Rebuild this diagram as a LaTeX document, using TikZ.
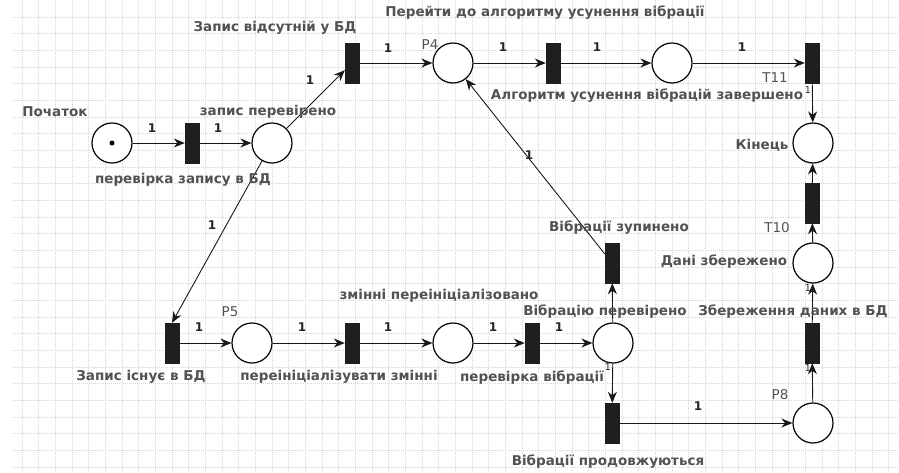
\documentclass[tikz,border=0pt]{standalone}
\usepackage{fontspec}
\setmainfont{DejaVu Sans}
\usetikzlibrary{arrows.meta}

\tikzset{
  place/.style={circle,draw=black,line width=1.2pt,minimum size=40pt,inner sep=0pt,fill=white},
  trans/.style={rectangle,fill=black!88,draw=black!88,minimum width=14pt,minimum height=40pt,inner sep=0pt},
  arc/.style={-{Stealth[length=11pt,width=9pt,inset=3.5pt]},line width=0.9pt,black!90},
  lbl/.style={font=\bfseries\fontsize{13.5}{15}\selectfont,text=black!68,inner sep=0pt},
  idlbl/.style={font=\fontsize{13.5}{15}\selectfont,text=black!68,inner sep=0pt},
  wt/.style={font=\bfseries\fontsize{12}{14}\selectfont,text=black!85,inner sep=0pt},
  wts/.style={font=\fontsize{9.5}{11}\selectfont,text=black!85,inner sep=0pt},
  gridline/.style={black!16,line width=0.5pt,dash pattern=on 1pt off 1pt}
}

\begin{document}
\begin{tikzpicture}[x=1pt,y=-1pt]
\useasboundingbox (0,0) rectangle (899,472);
\fill[white] (0,0) rectangle (899,472);

% background grid
\foreach \k in {0,...,27}
  \draw[gridline] (13,{17+16.667*\k}) -- (899,{17+16.667*\k});
\foreach \k in {0,...,52}
  \draw[gridline] ({22+16.667*\k},0) -- ({22+16.667*\k},472);

% places
\node[place] (start) at (112,143) {};
\fill[black] (start) circle (2.5pt);
\node[place] (checked) at (272,143) {};
\node[place] (p4) at (453,63) {};
\node[place] (algo) at (672,63) {};
\node[place] (fin) at (813,143) {};
\node[place] (saved) at (813,263) {};
\node[place] (p8) at (813,423) {};
\node[place] (vibchk) at (613,343) {};
\node[place] (pv) at (453,343) {};
\node[place] (p5) at (252,343) {};

% transitions
\node[trans] (tcheck) at (192,143) {};
\node[trans] (tabsent) at (352,63) {};
\node[trans] (tgo) at (553,63) {};
\node[trans] (t11) at (812,63) {};
\node[trans] (t10) at (812,203) {};
\node[trans] (tsave) at (812,343) {};
\node[trans] (tcont) at (612,423) {};
\node[trans] (tstop) at (612,263) {};
\node[trans] (tvib) at (532,343) {};
\node[trans] (treinit) at (352,343) {};
\node[trans] (texists) at (172,343) {};

% arcs
\draw[arc] (start) -- (tcheck);
\draw[arc] (tcheck) -- (checked);
\draw[arc] (checked) -- (tabsent);
\draw[arc] (checked) -- (texists.north);
\draw[arc] (tabsent) -- (p4);
\draw[arc] (p4) -- (tgo);
\draw[arc] (tgo) -- (algo);
\draw[arc] (algo) -- (t11);
\draw[arc] (t11) -- (fin);
\draw[arc] (t10) -- (fin);
\draw[arc] (saved) -- (t10);
\draw[arc] (tsave) -- (saved);
\draw[arc] (p8) -- (tsave);
\draw[arc] (tcont) -- (p8);
\draw[arc] (vibchk) -- (tcont);
\draw[arc] (vibchk) -- (tstop);
\draw[arc] (tstop) -- (p4);
\draw[arc] (texists) -- (p5);
\draw[arc] (p5) -- (treinit);
\draw[arc] (treinit) -- (pv);
\draw[arc] (pv) -- (tvib);
\draw[arc] (tvib) -- (vibchk);

% labels
\node[lbl] (lstart) at (55,112) {Початок};
\node[lbl] (lchecked) at (268,112) {запис перевірено};
\node[lbl] (ltcheck) at (183,180) {перевірка запису в БД};
\node[lbl] (ltabsent) at (275,28) {Запис відсутній у БД};
\node[idlbl] (lp4) at (430,45) {P4};
\node[lbl] (ltgo) at (545,13) {Перейти до алгоритму усунення вібрації};
\node[idlbl] (lt11) at (775,78) {T11};
\node[lbl] (lalgo) at (647,96) {Алгоритм усунення вібрацій завершено};
\node[lbl] (lfin) at (762,145) {Кінець};
\node[lbl] (ltstop) at (619,228) {Вібрації зупинено};
\node[idlbl] (lt10) at (777,228) {T10};
\node[lbl] (lsaved) at (724,262) {Дані збережено};
\node[lbl] (ltreinit) at (439,296) {змінні переініціалізовано};
\node[lbl] (lvibchk) at (605,312) {Вібрацію перевірено};
\node[lbl] (ltsave) at (793,312) {Збереження даних в БД};
\node[idlbl] (lp5) at (230,312) {P5};
\node[lbl] (ltexists) at (141,377) {Запис існує в БД};
\node[lbl] (lp5b) at (339,377) {переініціалізувати змінні};
\node[lbl] (ltvib) at (532,378) {перевірка вібрації};
\node[idlbl] (lp8) at (780,395) {P8};
\node[lbl] (ltcont) at (608,462) {Вібрації продовжуються};

% arc weights
\node[wt] (w1) at (152,128) {1};
\node[wt] (w2) at (218,128) {1};
\node[wt] (w3) at (310,80) {1};
\node[wt] (w4) at (212,225) {1};
\node[wt] (w5) at (388,48) {1};
\node[wt] (w6) at (503,47) {1};
\node[wt] (w7) at (597,47) {1};
\node[wt] (w8) at (742,47) {1};
\node[wt] (w9) at (529,155) {1};
\node[wt] (w10) at (199,327) {1};
\node[wt] (w11) at (302,327) {1};
\node[wt] (w12) at (388,327) {1};
\node[wt] (w13) at (493,327) {1};
\node[wt] (w14) at (559,327) {1};
\node[wt] (w15) at (698,406) {1};
\node[wts] (w16) at (808,90) {1};
\node[wts] (w17) at (608,367) {1};
\node[wts] (w18) at (808,288) {1};
\node[wts] (w19) at (808,368) {1};
\end{tikzpicture}
\end{document}
